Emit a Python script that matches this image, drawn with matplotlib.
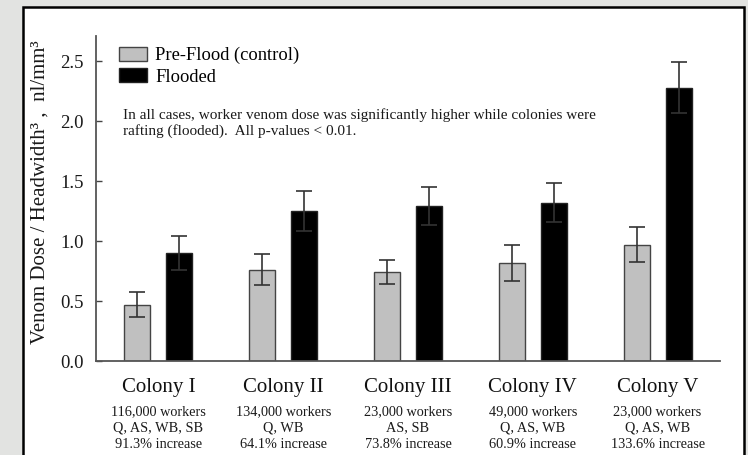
import matplotlib
matplotlib.use("Agg")
import matplotlib.pyplot as plt
from matplotlib.patches import Rectangle, Patch
import numpy as np

# ---- data ----
colonies = ["Colony I", "Colony II", "Colony III", "Colony IV", "Colony V"]
workers = ["116,000 workers", "134,000 workers", "23,000 workers", "49,000 workers", "23,000 workers"]
castes = ["Q, AS, WB, SB", "Q, WB", "AS, SB", "Q, AS, WB", "Q, AS, WB"]
increase = ["91.3% increase", "64.1% increase", "73.8% increase", "60.9% increase", "133.6% increase"]
pre_flood = [0.47, 0.76, 0.74, 0.82, 0.97]
pre_flood_err = [0.105, 0.13, 0.10, 0.15, 0.145]
flooded = [0.90, 1.25, 1.29, 1.32, 2.28]
flooded_err = [0.145, 0.165, 0.16, 0.165, 0.21]
yticks = [0.0, 0.5, 1.0, 1.5, 2.0, 2.5]
series_labels = ["Pre-Flood (control)", "Flooded"]
note = ("In all cases, worker venom dose was significantly higher while colonies were\n"
        "rafting (flooded).  All p-values < 0.01.")
ylabel = "Venom Dose / Headwidth\u00b3 ,  nl/mm\u00b3"

plt.rcParams['font.family'] = ['Liberation Serif', 'DejaVu Serif']

W, H = 748, 455
fig = plt.figure(figsize=(W / 100, H / 100), dpi=100)
fig.patch.set_facecolor("#e2e3e1")

# white panel with black border
panel = Rectangle((23 / W, -0.05), (744 - 23) / W, (H - 7) / H + 0.05,
                  transform=fig.transFigure, facecolor="white",
                  edgecolor="black", linewidth=1.8, zorder=-10)
fig.patches.append(panel)

ax = fig.add_axes([96 / W, (H - 361) / H, (720 - 96) / W, (361 - 36) / H])
ax.set_facecolor("none")

x = np.arange(len(colonies))
w = 0.208
off = 0.168
err_kw = dict(ecolor="#333333", elinewidth=1.2, capsize=5.5, capthick=1.2)
ax.bar(x - off, pre_flood, w, yerr=pre_flood_err, color="#c0c0c0",
       edgecolor="#444444", linewidth=1.0, error_kw=err_kw, label=series_labels[0], zorder=2)
ax.bar(x + off, flooded, w, yerr=flooded_err, color="black",
       edgecolor="#222222", linewidth=1.0, error_kw=err_kw, label=series_labels[1], zorder=2)

ax.set_xlim(-0.5, 4.5)
ax.set_ylim(0, 2.71)
ax.set_yticks(yticks)
ax.set_yticklabels([f"{v:.1f}" for v in yticks], fontsize=13.5, color="#1a1a1a")
ax.tick_params(axis="y", direction="in", length=4, width=1.0, color="#444444", pad=9)
ax.set_xticks(x)
ax.set_xticklabels(colonies, fontsize=15, color="#111111")
ax.tick_params(axis="x", length=0, pad=12)

for s in ["top", "right"]:
    ax.spines[s].set_visible(False)
for s in ["left", "bottom"]:
    ax.spines[s].set_color("#555555")
    ax.spines[s].set_linewidth(1.3)

# sub-labels under each colony
for i in range(len(colonies)):
    for j, txt in enumerate([workers[i], castes[i], increase[i]]):
        ax.annotate(txt, xy=(x[i], 0), xycoords=("data", "axes fraction"),
                    xytext=(0, -36.7 - j * 11.6), textcoords="offset points",
                    ha="center", va="center", fontsize=10.3, color="#1a1a1a")

ax.set_ylabel(ylabel, fontsize=15, color="#1a1a1a")
ax.yaxis.label.set_va("center")
ax.yaxis.set_label_coords(-0.09, 0.52)

handles = [Patch(facecolor="#c0c0c0", edgecolor="#444444", linewidth=1.0),
           Patch(facecolor="black", edgecolor="#222222", linewidth=1.0)]
ax.legend(handles, series_labels, loc="upper left", bbox_to_anchor=(0.025, 0.99),
          frameon=False, fontsize=13.3, handlelength=1.5, handleheight=0.8,
          handletextpad=0.45, labelspacing=0.22, borderaxespad=0.0)

ax.text(0.043, 0.731, note, transform=ax.transAxes, fontsize=11,
        color="#1a1a1a", va="center", ha="left", linespacing=1.22)

fig.savefig("out.png", dpi=100, facecolor=fig.get_facecolor())
